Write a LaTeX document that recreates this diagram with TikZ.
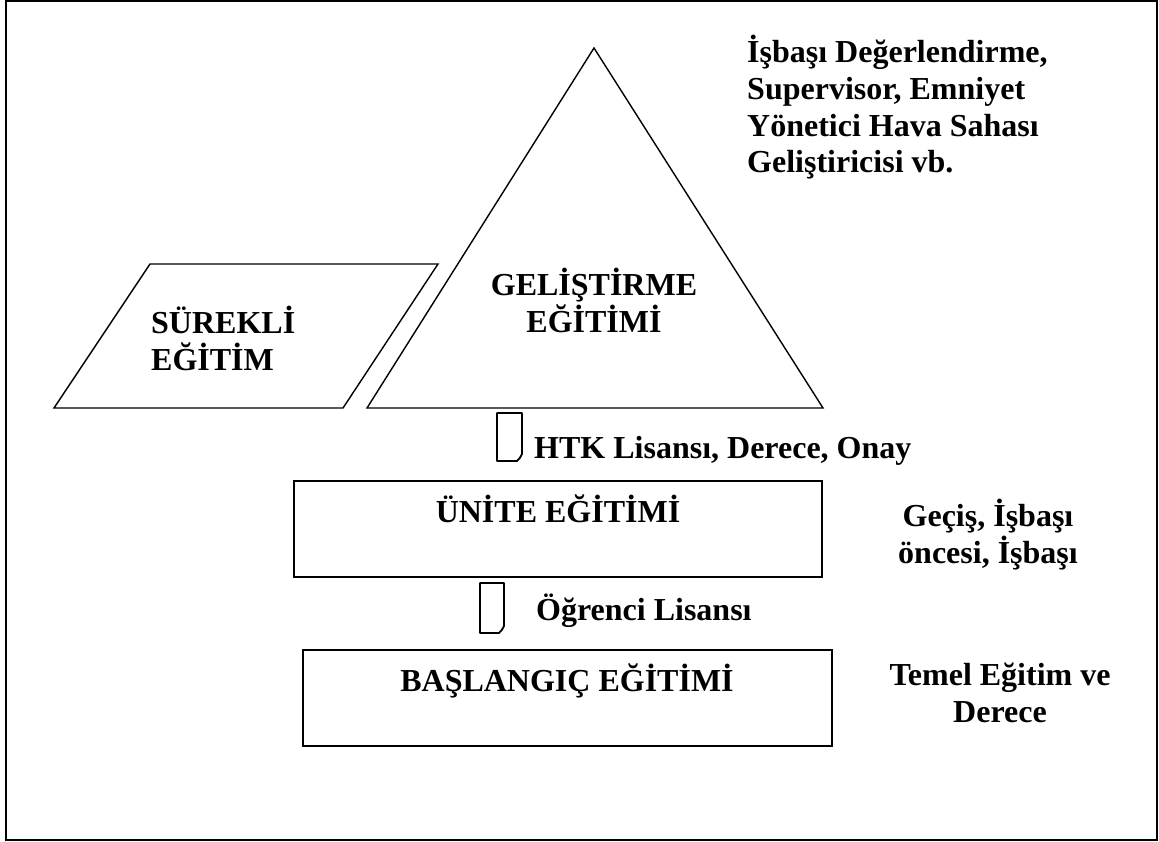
\documentclass[tikz,border=0pt]{standalone}
\usepackage{fontspec}
\setmainfont{Liberation Serif}
\begin{document}
\begin{tikzpicture}[x=1pt,y=-1pt,
  txt/.style={font=\fontsize{32}{36.8}\selectfont\bfseries, inner sep=0pt},
  shapeline/.style={line width=1.4pt, line join=miter},
  boxstyle/.style={draw, line width=2.2pt, inner sep=0pt},
  docline/.style={line width=1.8pt, line join=round}]
\useasboundingbox (0,0) rectangle (1159,842);
% outer frame
\draw[line width=2pt] (6,1) rectangle (1157,840);
% triangle and parallelogram
\draw[shapeline] (594,48) -- (823,408) -- (367,408) -- cycle;
\draw[shapeline] (150,264) -- (438,264) -- (343,408) -- (54,408) -- cycle;
% boxes
\node[boxstyle, minimum width=528pt, minimum height=96pt] (unite) at (558,529) {};
\node[boxstyle, minimum width=529pt, minimum height=96pt] (baslangic) at (567.5,698) {};
% document symbols
\draw[docline] (497,413) -- (522,413) -- (522,454) .. controls (521,457) and (519,459) .. (517,461) -- (497,461) -- cycle;
\draw[docline] (480,583) -- (504,583) -- (504,626) .. controls (503,629) and (501,631) .. (499,633) -- (480,633) -- cycle;
% texts (base anchor of a multi-line node = baseline of its last line)
\node[txt, align=left, anchor=base west] (note) at (747,173) {İşbaşı Değerlendirme,\\Supervisor, Emniyet\\Yönetici Hava Sahası\\Geliştiricisi vb.};
\node[txt, align=center, anchor=base] (gelistirme) at (594,332) {GELİŞTİRME\\EĞİTİMİ};
\node[txt, align=left, anchor=base west] (surekli) at (151,370) {SÜREKLİ\\EĞİTİM};
\node[txt, anchor=base west] (htk) at (534,458) {HTK Lisansı, Derece, Onay};
\node[txt, anchor=base] (unitetxt) at (558,522) {ÜNİTE EĞİTİMİ};
\node[txt, align=center, anchor=base] (gecis) at (988,563) {Geçiş, İşbaşı\\öncesi, İşbaşı};
\node[txt, anchor=base west] (ogrenci) at (536,620) {Öğrenci Lisansı};
\node[txt, anchor=base] (baslangictxt) at (567,691) {BAŞLANGIÇ EĞİTİMİ};
\node[txt, align=center, anchor=base] (temel) at (1000,722) {Temel Eğitim ve\\Derece};
\end{tikzpicture}
\end{document}
